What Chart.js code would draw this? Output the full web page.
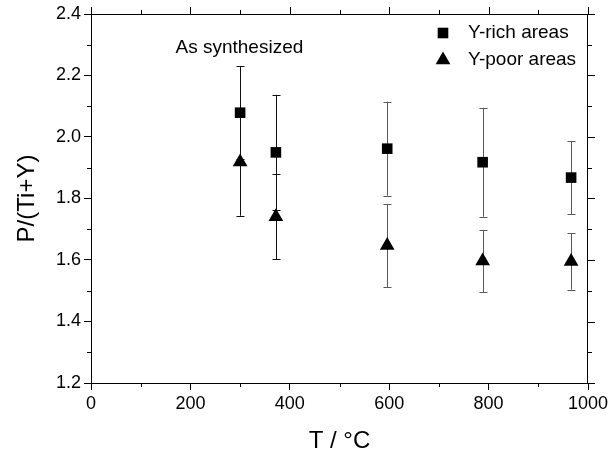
<!DOCTYPE html>
<html>
<head>
<meta charset="utf-8">
<script src="https://cdn.jsdelivr.net/npm/chart.js@4.4.1/dist/chart.umd.min.js"></script>
<style>
  html, body { margin: 0; padding: 0; background: #fff; }
  #wrap { width: 612px; height: 459px; }
</style>
</head>
<body>
<div id="wrap"><canvas id="chart" width="612" height="459"></canvas></div>
<script>
  "use strict";

  // Data
  const temps = [300, 372, 596, 788, 966];
  const richVals = [2.079, 1.950, 1.962, 1.918, 1.868];
  const richErr = [0.152, 0.187, 0.153, 0.177, 0.118];
  const poorVals = [1.919, 1.741, 1.647, 1.597, 1.595];
  const poorErr = [0.175, 0.138, 0.135, 0.101, 0.092];
  const seriesNames = ["Y-rich areas", "Y-poor areas"];
  const xTicks = [0, 200, 400, 600, 800, 1000];
  const yTicks = [1.2, 1.4, 1.6, 1.8, 2.0, 2.2, 2.4];
  const note = "As synthesized";

  const FONT = "'Liberation Sans', Arial, sans-serif";
  const errs = [richErr, poorErr];

  // Error bars, frame, minor ticks, legend and note
  const extras = {
    id: "extras",
    beforeDatasetsDraw(chart) {
      const { ctx, scales: { x, y } } = chart;
      ctx.save();
      ctx.lineWidth = 1;
      chart.data.datasets.forEach((ds, d) => {
        ds.data.forEach((p, i) => {
          const px = Math.round(x.getPixelForValue(p.x)) + 0.5;
          const top = y.getPixelForValue(p.y + errs[d][i]);
          const bot = y.getPixelForValue(p.y - errs[d][i]);
          ctx.strokeStyle = i < 2 ? "#111" : "#5a5a5a";
          ctx.beginPath();
          ctx.moveTo(px, top); ctx.lineTo(px, bot);
          ctx.moveTo(px - 4, Math.round(top) + 0.5); ctx.lineTo(px + 4, Math.round(top) + 0.5);
          ctx.moveTo(px - 4, Math.round(bot) + 0.5); ctx.lineTo(px + 4, Math.round(bot) + 0.5);
          ctx.stroke();
        });
      });
      ctx.restore();
    },
    afterDraw(chart) {
      const { ctx, chartArea: a, scales: { x, y } } = chart;
      ctx.save();
      ctx.strokeStyle = "#000";
      ctx.lineWidth = 1;
      ctx.beginPath();
      // frame top + right
      ctx.moveTo(a.left, a.top + 0.5); ctx.lineTo(a.right, a.top + 0.5);
      ctx.moveTo(a.right - 0.5, a.top); ctx.lineTo(a.right - 0.5, a.bottom);
      // x ticks
      for (let v = 0; v <= 1000; v += 100) {
        const px = Math.round(x.getPixelForValue(v)) + 0.5;
        const len = v % 200 === 0 ? 7 : 4;
        ctx.moveTo(px, a.top); ctx.lineTo(px, a.top - len);
        if (v % 200 !== 0) { ctx.moveTo(px, a.bottom); ctx.lineTo(px, a.bottom + len); }
      }
      // y ticks
      for (let k = 0; k <= 12; k++) {
        const v = 1.2 + k * 0.1;
        const py = Math.round(y.getPixelForValue(v)) + 0.5;
        const len = k % 2 === 0 ? 7 : 4;
        ctx.moveTo(a.right, py); ctx.lineTo(a.right + len, py);
        if (k % 2 !== 0) { ctx.moveTo(a.left, py); ctx.lineTo(a.left - len, py); }
      }
      ctx.stroke();

      // legend inside plot
      ctx.fillStyle = "#000";
      ctx.font = "19px " + FONT;
      ctx.textBaseline = "middle";
      chart.data.datasets.forEach((ds, d) => {
        const ly = a.top + 19 + d * 27;
        Chart.helpers.drawPoint(ctx, {
          pointStyle: ds.pointStyle, radius: ds.pointRadius, rotation: 0, borderWidth: 0
        }, a.right - 145, ly);
        ctx.fillStyle = "#000";
        ctx.fillText(ds.label, a.right - 120, ly);
      });

      // note
      ctx.textAlign = "left";
      ctx.fillText(note, x.getPixelForValue(170), y.getPixelForValue(2.29));
      ctx.restore();
    }
  };

  const toPts = (vals) => vals.map((v, i) => ({ x: temps[i], y: v }));

  new Chart(document.getElementById("chart").getContext("2d"), {
    type: "scatter",
    data: {
      datasets: [
        { label: seriesNames[0], data: toPts(richVals), pointStyle: "rect", pointRadius: 7.5,
          backgroundColor: "#000", borderColor: "#000", borderWidth: 0 },
        { label: seriesNames[1], data: toPts(poorVals), pointStyle: "triangle", pointRadius: 8.5,
          backgroundColor: "#000", borderColor: "#000", borderWidth: 0 }
      ]
    },
    options: {
      responsive: false,
      animation: false,
      layout: { padding: { top: 14, right: 24, left: 0, bottom: 0 } },
      plugins: { legend: { display: false }, tooltip: { enabled: false } },
      scales: {
        x: {
          type: "linear", min: 0, max: 1000,
          afterFit: (s) => { s.height = 76; },
          afterBuildTicks: (s) => { s.ticks = xTicks.map(v => ({ value: v })); },
          ticks: { color: "#000", font: { family: FONT, size: 18 }, padding: 3, maxRotation: 0,
                   callback: (v) => String(v) },
          grid: { drawOnChartArea: false, tickLength: 7, color: "#000" },
          border: { color: "#000", width: 1 },
          title: { display: true, text: "T / \u00b0C", color: "#000",
                   font: { family: FONT, size: 24 }, padding: { bottom: 3 } }
        },
        y: {
          min: 1.2, max: 2.4,
          afterFit: (s) => { s.width = 91; },
          afterBuildTicks: (s) => { s.ticks = yTicks.map(v => ({ value: v })); },
          ticks: { color: "#000", font: { family: FONT, size: 18 }, padding: 3,
                   callback: (v) => Number(v).toFixed(1) },
          grid: { drawOnChartArea: false, tickLength: 7, color: "#000" },
          border: { color: "#000", width: 1 },
          title: { display: true, text: "P/(Ti+Y)", color: "#000",
                   font: { family: FONT, size: 24 }, padding: { top: 13 } }
        }
      }
    },
    plugins: [extras]
  });
</script>
</body>
</html>
